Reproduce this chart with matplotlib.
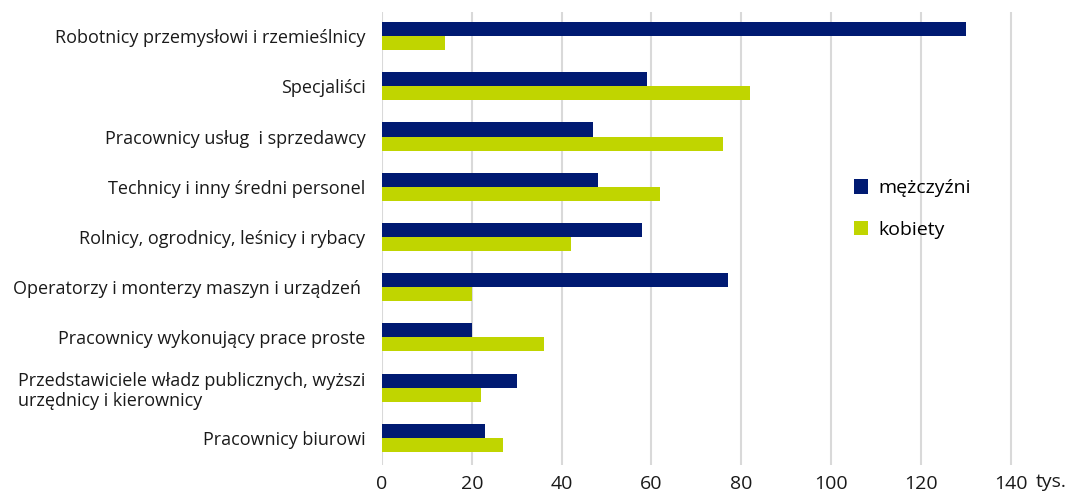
import numpy as np
import matplotlib
matplotlib.use("Agg")
import matplotlib.pyplot as plt

plt.rcParams['font.family'] = ['Open Sans', 'DejaVu Sans']

categories = [
    "Robotnicy przemysłowi i rzemieślnicy",
    "Specjaliści",
    "Pracownicy usług  i sprzedawcy",
    "Technicy i inny średni personel",
    "Rolnicy, ogrodnicy, leśnicy i rybacy",
    "Operatorzy i monterzy maszyn i urządzeń ",
    "Pracownicy wykonujący prace proste",
    "Przedstawiciele władz publicznych, wyższi\nurzędnicy i kierownicy",
    "Pracownicy biurowi",
]
mezczyzni = [130, 59, 47, 48, 58, 77, 20, 30, 23]
kobiety = [14, 82, 76, 62, 42, 20, 36, 22, 27]
xticks = [0, 20, 40, 60, 80, 100, 120, 140]

NAVY = '#001a72'
LIME = '#c0d500'

fig = plt.figure(figsize=(10.73, 5.0), dpi=100)
ax = fig.add_axes([382/1073, 35/500, (1060-382)/1073, (488-35)/500])

y = np.arange(len(categories))
h = 0.28
ax.barh(y - h/2, mezczyzni, height=h, color=NAVY, label='mężczyźni', zorder=3)
ax.barh(y + h/2, kobiety, height=h, color=LIME, label='kobiety', zorder=3)

ax.set_ylim(len(categories) - 0.46, -0.48)
ax.set_xlim(0, 151)
ax.set_yticks(y)
ax.set_yticklabels(categories, fontsize=13, color='#1a1a1a', ha='right')
for lbl in ax.get_yticklabels():
    lbl.set_multialignment('left')
ax.set_xticks(xticks)
ax.set_xticklabels([str(v) for v in xticks], fontsize=14, color='#1a1a1a')
ax.tick_params(axis='y', length=0, pad=12)
ax.tick_params(axis='x', length=0, pad=7)
ax.grid(axis='x', color='#d9d9d9', linewidth=1.5, zorder=0)
for s in ax.spines.values():
    s.set_visible(False)

fig.text(1036/1073, 1 - 482/500, 'tys.', fontsize=14, color='#1a1a1a', va='center', ha='left')

ax.legend(loc='center left', bbox_to_anchor=(0.67, 0.565), frameon=False, fontsize=14,
          handlelength=0.75, handleheight=0.75, handletextpad=0.5, labelspacing=1.2)

fig.savefig('out.png', dpi=100)
